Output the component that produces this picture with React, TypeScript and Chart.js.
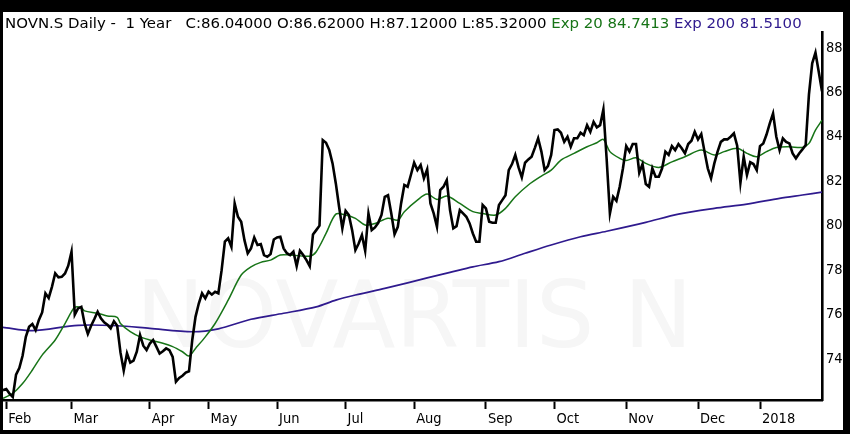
import React, { useEffect, useRef } from "react";
import { Chart, registerables } from "chart.js";

Chart.register(...registerables);

// Daily closes (trading-day index 0..251)
const closes: number[] = [
  72.6, 72.65, 72.45, 72.3, 73.3, 73.6, 74.15, 75.0, 75.45, 75.58,
  75.3, 75.76, 76.1, 76.96, 76.75, 77.25, 77.86, 77.68, 77.7, 77.85,
  78.2, 78.83, 76.0, 76.28, 76.35, 75.6, 75.13, 75.5, 75.8, 76.13,
  75.83, 75.65, 75.55, 75.38, 75.7, 75.5, 74.3, 73.48, 74.26, 73.84,
  73.93, 74.33, 75.08, 74.6, 74.41, 74.7, 74.86, 74.56, 74.25, 74.35,
  74.48, 74.4, 74.1, 72.98, 73.15, 73.25, 73.39, 73.45, 74.86, 75.9,
  76.5, 76.96, 76.73, 77.03, 76.9, 77.03, 76.96, 78.0, 79.28, 79.43,
  79.05, 81.0, 80.4, 80.18, 79.35, 78.76, 78.98, 79.47, 79.13, 79.17,
  78.68, 78.6, 78.72, 79.38, 79.47, 79.5, 78.98, 78.76, 78.68, 78.83,
  78.18, 78.87, 78.68, 78.45, 78.18, 79.6, 79.8, 80.0, 83.85, 83.73,
  83.4, 82.8, 81.9, 80.85, 79.88, 80.67, 80.48, 79.8, 78.9, 79.2,
  79.58, 78.87, 80.55, 79.8, 79.92, 80.13, 80.48, 81.3, 81.37, 80.55,
  79.62, 79.95, 81.0, 81.83, 81.75, 82.28, 82.83, 82.5, 82.73, 82.13,
  82.53, 81.0, 80.55, 79.95, 81.6, 81.75, 82.05, 80.7, 79.88, 79.98,
  80.7, 80.55, 80.4, 80.1, 79.65, 79.28, 79.28, 80.93, 80.78, 80.18,
  80.13, 80.13, 80.93, 81.15, 81.37, 82.5, 82.77, 83.18, 82.62, 82.17,
  82.83, 82.98, 83.1, 83.5, 83.93, 83.33, 82.5, 82.68, 83.18, 84.3,
  84.33, 84.18, 83.77, 84.0, 83.55, 83.93, 83.93, 84.18, 84.07, 84.52,
  84.22, 84.67, 84.42, 84.52, 85.23, 83.0, 80.55, 81.3, 81.12, 81.75,
  82.58, 83.58, 83.33, 83.67, 83.67, 82.38, 82.77, 81.87, 81.75, 82.58,
  82.2, 82.2, 82.58, 83.33, 83.18, 83.58, 83.4, 83.67, 83.48, 83.25,
  83.67, 83.82, 84.22, 83.88, 84.12, 83.33, 82.58, 82.13, 82.8, 83.33,
  83.77, 83.88, 83.88, 84.0, 84.15, 83.6, 81.93, 83.1, 82.28, 82.85,
  82.77, 82.5, 83.58, 83.7, 84.1, 84.6, 85.05, 84.0, 83.4, 83.93,
  83.77, 83.7, 83.25, 83.03, 83.25, 83.43, 83.63, 85.9, 87.3, 87.78,
  86.92, 86.04,
];

// Exp 20 read at trading-day indices
const ema20Idx: number[] = [
  0, 3, 6, 9, 12, 16, 19, 21, 22, 24, 25, 29, 32, 35, 36, 39, 42, 45, 49, 52,
  55, 57, 59, 62, 65, 69, 73, 76, 79, 82, 85, 88, 94, 96, 99, 102, 105, 108, 111, 114,
  118, 121, 123, 127, 130, 133, 136, 140, 144, 147, 151, 154, 157, 161, 165, 168, 171, 175, 179, 182,
  184, 186, 189, 191, 194, 197, 201, 205, 209, 214, 218, 221, 225, 228, 231, 234, 237, 241, 245, 247,
  249, 251,
];
const ema20Vals: number[] = [
  72.23, 72.46, 72.9, 73.51, 74.18, 74.86, 75.6, 76.13, 76.33, 76.31, 76.17, 76.06, 75.94, 75.88, 75.6, 75.23, 75.0, 74.86, 74.71, 74.56,
  74.33, 74.14, 74.48, 75.0, 75.6, 76.65, 77.78, 78.15, 78.35, 78.45, 78.68, 78.68, 78.63, 78.83, 79.65, 80.52, 80.48, 80.33, 80.03, 80.1,
  80.33, 80.25, 80.63, 81.15, 81.42, 81.18, 81.33, 81.0, 80.63, 80.55, 80.48, 80.78, 81.3, 81.83, 82.23, 82.5, 82.95, 83.25, 83.55, 83.73,
  83.88, 83.33, 83.03, 82.93, 83.05, 82.8, 82.62, 82.87, 83.1, 83.4, 83.18, 83.33, 83.48, 83.25, 83.1, 83.33, 83.52, 83.55, 83.52, 83.7,
  84.3, 84.74,
];

// Exp 200 read at trading-day indices
const ema200Idx: number[] = [0, 9, 23, 35, 45, 58, 66, 76, 86, 96, 102, 108, 117, 124, 130, 137, 144, 152, 160, 168, 177, 185, 197, 207, 218, 228, 238, 245, 251];
const ema200Vals: number[] = [75.43, 75.28, 75.52, 75.5, 75.38, 75.23, 75.36, 75.79, 76.06, 76.35, 76.65, 76.88, 77.18, 77.43, 77.65, 77.9, 78.15, 78.38, 78.76, 79.13, 79.5, 79.75, 80.15, 80.52, 80.78, 80.97, 81.23, 81.38, 81.51];

const monthTickIdx: number[] = [1, 21, 45, 63, 84, 105, 126, 148, 169, 191, 213, 232];
const monthLabels: string[] = ["Feb", "Mar", "Apr", "May", "Jun", "Jul", "Aug", "Sep", "Oct", "Nov", "Dec", "2018"];
const yTickValues: number[] = [74, 76, 78, 80, 82, 84, 86, 88];

const headerMain = "NOVN.S Daily -  1 Year   C:86.04000 O:86.62000 H:87.12000 L:85.32000 ";
const headerEma20 = "Exp 20 84.7413";
const headerEma200 = "Exp 200 81.5100";
const watermarkText = "NOVARTIS N";

const GREEN = "#177417";
const PURPLE = "#2f1a8e";
const AXIS_FONT = '"DejaVu Sans Condensed", "DejaVu Sans", sans-serif';

const watermarkPlugin = {
  id: "watermark",
  beforeDatasetsDraw(chart: any) {
    const { ctx, chartArea } = chart;
    ctx.save();
    ctx.font = '92px "DejaVu Sans", sans-serif';
    ctx.fillStyle = "#f6f6f6";
    ctx.textAlign = "center";
    ctx.textBaseline = "middle";
    ctx.fillText(
      watermarkText,
      chartArea.left + chartArea.width * 0.502,
      chartArea.top + chartArea.height * 0.79
    );
    ctx.restore();
  },
};

export default function App() {
  const canvasRef = useRef<HTMLCanvasElement | null>(null);

  useEffect(() => {
    if (!canvasRef.current) return;
    const chart = new Chart(canvasRef.current, {
      type: "line",
      data: {
        datasets: [
          {
            label: "Close",
            data: closes.map((v, i) => ({ x: i, y: v })),
            borderColor: "#000000",
            borderWidth: 2.6,
            pointRadius: 0,
            tension: 0,
          },
          {
            label: "Exp 20",
            data: ema20Idx.map((x, i) => ({ x, y: ema20Vals[i] })),
            borderColor: GREEN,
            borderWidth: 1.5,
            pointRadius: 0,
            tension: 0.3,
          },
          {
            label: "Exp 200",
            data: ema200Idx.map((x, i) => ({ x, y: ema200Vals[i] })),
            borderColor: PURPLE,
            borderWidth: 1.7,
            pointRadius: 0,
            tension: 0.3,
          },
        ],
      },
      options: {
        animation: false,
        responsive: false,
        layout: { padding: { top: 20, left: 0, right: 0, bottom: 0 } },
        plugins: {
          legend: { display: false },
          tooltip: { enabled: false },
        },
        scales: {
          x: {
            type: "linear",
            min: 0,
            max: closes.length - 1,
            afterBuildTicks: (scale: any) => {
              scale.ticks = monthTickIdx.map((v) => ({ value: v }));
            },
            afterFit: (scale: any) => {
              scale.height = 30;
            },
            grid: {
              display: true,
              drawOnChartArea: false,
              drawTicks: true,
              tickLength: 9,
              tickWidth: 2,
              color: "#000",
            },
            border: { display: true, color: "#000", width: 2.6 },
            ticks: {
              autoSkip: false,
              maxRotation: 0,
              align: "start",
              labelOffset: 2,
              padding: 2,
              color: "#000",
              font: { family: AXIS_FONT, size: 14.5 },
              callback: (value: any) => {
                const k = monthTickIdx.indexOf(Number(value));
                return k >= 0 ? monthLabels[k] : "";
              },
            },
          },
          y: {
            position: "right",
            min: 72.16,
            max: 88.71,
            afterBuildTicks: (scale: any) => {
              scale.ticks = yTickValues.map((v) => ({ value: v }));
            },
            afterFit: (scale: any) => {
              scale.width = 21;
            },
            grid: { display: true, drawOnChartArea: false, drawTicks: false },
            border: { display: true, color: "#000", width: 2.6 },
            ticks: {
              padding: 4,
              color: "#000",
              font: { family: AXIS_FONT, size: 14.5 },
              callback: (value: any) => String(value),
            },
          },
        },
      },
      plugins: [watermarkPlugin],
    } as any);
    return () => chart.destroy();
  }, []);

  return (
    <div
      style={{
        position: "fixed",
        left: 0,
        top: 0,
        width: 850,
        height: 434,
        background: "#000",
        overflow: "hidden",
      }}
    >
      <div
        style={{
          position: "absolute",
          left: 3,
          top: 12,
          width: 840,
          height: 418,
          background: "#fff",
        }}
      >
        <canvas
          ref={canvasRef}
          width={840}
          height={418}
          style={{ position: "absolute", left: 0, top: 0, display: "block" }}
        />
        <div
          style={{
            position: "absolute",
            left: 2,
            top: 2,
            whiteSpace: "pre",
            fontFamily: '"DejaVu Sans", sans-serif',
            fontSize: 14.95,
            lineHeight: "18px",
            color: "#000",
          }}
        >
          <span>{headerMain}</span>
          <span style={{ color: GREEN }}>{headerEma20}</span>
          <span> </span>
          <span style={{ color: PURPLE }}>{headerEma200}</span>
        </div>
      </div>
    </div>
  );
}
